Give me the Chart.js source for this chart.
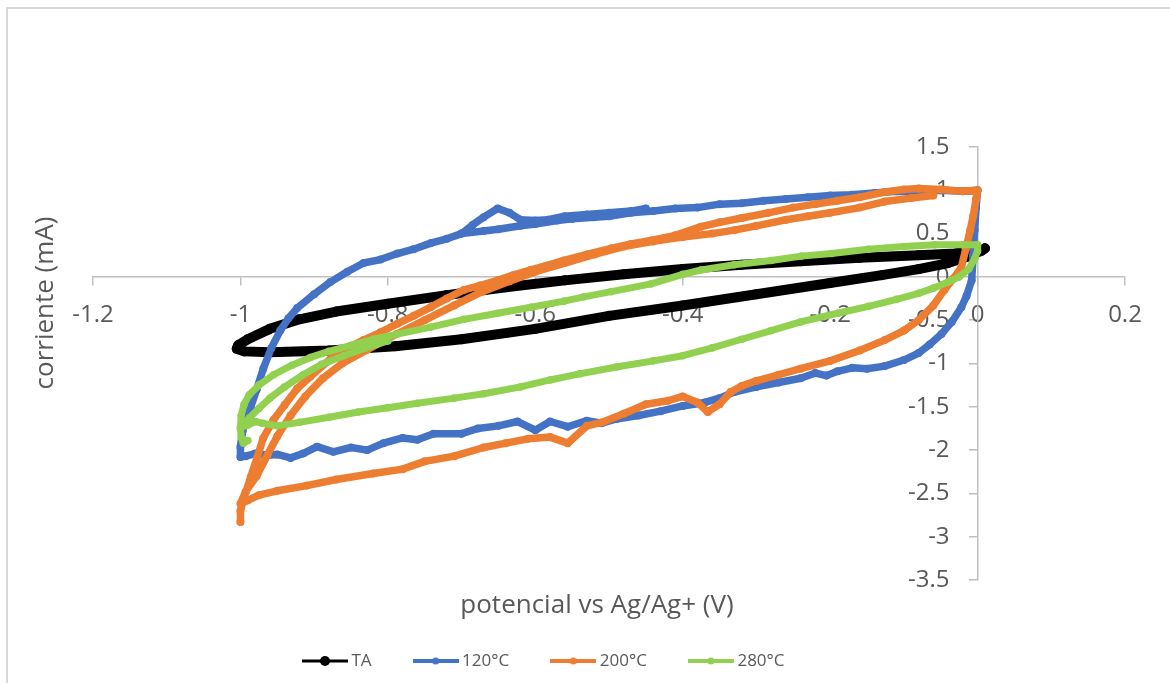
<!DOCTYPE html>
<html>
<head>
<meta charset="utf-8">
<script src="https://cdn.jsdelivr.net/npm/chart.js@4.4.1/dist/chart.umd.min.js"></script>
<style>
  html, body { margin: 0; padding: 0; background: #fff; overflow: hidden; }
  #wrap { position: relative; width: 1170px; height: 683px; }
  #frame { position: absolute; left: 6px; top: 7px; width: 1220px; height: 740px;
           border: 2px solid #d9d9d9; box-sizing: border-box; }
  #cv { position: absolute; left: 0; top: 0; }
</style>
</head>
<body>
<div id="wrap">
  <div id="frame"></div>
  <canvas id="cv" width="1170" height="683"></canvas>
</div>
<script>
// Cyclic voltammograms: potential (V vs Ag/Ag+) against current (mA)
const seriesNames  = ['TA', '120°C', '200°C', '280°C'];
const seriesColors = ['#000000', '#4472C4', '#ED7D31', '#92D050'];

const xTicks = [-1.2, -1, -0.8, -0.6, -0.4, -0.2, 0, 0.2];
const yTicks = [-3.5, -3, -2.5, -2, -1.5, -1, -0.5, 0, 0.5, 1, 1.5];

const xTitle = 'potencial vs Ag/Ag+ (V)';
const yTitle = 'corriente (mA)';

// [potential, current]
const taPoints = [
  [0.000, 0.31], [-0.03, 0.27], [-0.08, 0.25], [-0.16, 0.22], [-0.24, 0.18], [-0.32, 0.14],
  [-0.40, 0.09], [-0.48, 0.03], [-0.56, -0.04], [-0.64, -0.12], [-0.72, -0.21], [-0.80, -0.31],
  [-0.87, -0.40], [-0.92, -0.49], [-0.96, -0.60], [-0.99, -0.72], [-1.003, -0.79], [-1.005, -0.83],
  [-0.995, -0.86], [-0.96, -0.87], [-0.88, -0.85], [-0.79, -0.80], [-0.70, -0.72], [-0.60, -0.60],
  [-0.50, -0.45], [-0.40, -0.33], [-0.30, -0.20], [-0.20, -0.07], [-0.13, 0.02], [-0.08, 0.09],
  [-0.04, 0.16], [-0.015, 0.23], [0.005, 0.30], [0.01, 0.33]
];

const t120Points = [
  [-0.70, 0.50], [-0.67, 0.53], [-0.65, 0.55], [-0.62, 0.59], [-0.60, 0.61], [-0.57, 0.65],
  [-0.55, 0.67], [-0.52, 0.69], [-0.50, 0.70], [-0.47, 0.74], [-0.44, 0.76], [-0.41, 0.79],
  [-0.38, 0.80], [-0.35, 0.84], [-0.32, 0.85], [-0.29, 0.88], [-0.26, 0.90], [-0.23, 0.92],
  [-0.20, 0.94], [-0.17, 0.95], [-0.14, 0.97], [-0.11, 0.99], [-0.08, 0.98], [-0.05, 1.00],
  [-0.02, 0.99], [0.00, 1.00],
  [-0.002, 0.80], [-0.004, 0.54], [-0.006, 0.25], [-0.008, -0.04], [-0.015, -0.22], [-0.022, -0.35],
  [-0.035, -0.52], [-0.049, -0.66], [-0.065, -0.78], [-0.08, -0.88], [-0.10, -0.96],
  [-0.126, -1.03], [-0.15, -1.06], [-0.17, -1.05], [-0.19, -1.09], [-0.205, -1.14], [-0.22, -1.11],
  [-0.24, -1.17], [-0.27, -1.22], [-0.30, -1.27], [-0.33, -1.33], [-0.35, -1.40], [-0.37, -1.45],
  [-0.40, -1.49], [-0.43, -1.55], [-0.46, -1.60], [-0.49, -1.64], [-0.51, -1.69], [-0.53, -1.66],
  [-0.556, -1.73], [-0.58, -1.67], [-0.60, -1.77], [-0.624, -1.67], [-0.65, -1.72], [-0.678, -1.75],
  [-0.70, -1.81], [-0.738, -1.81], [-0.76, -1.88], [-0.78, -1.86], [-0.806, -1.92], [-0.828, -2.00],
  [-0.85, -1.97], [-0.874, -2.02], [-0.896, -1.96], [-0.915, -2.04], [-0.932, -2.09], [-0.95, -2.05],
  [-0.963, -2.06], [-0.98, -2.04], [-0.993, -2.07], [-1.0, -2.08],
  [-1.0, -1.96], [-0.997, -1.78], [-0.993, -1.64], [-0.986, -1.50], [-0.978, -1.30], [-0.969, -1.06],
  [-0.958, -0.82], [-0.946, -0.62], [-0.935, -0.48], [-0.923, -0.36], [-0.90, -0.20], [-0.878, -0.06],
  [-0.855, 0.06], [-0.833, 0.16], [-0.81, 0.20], [-0.787, 0.27], [-0.765, 0.32], [-0.742, 0.39],
  [-0.72, 0.44], [-0.70, 0.50],
  [-0.685, 0.60], [-0.67, 0.69], [-0.651, 0.79], [-0.635, 0.74], [-0.62, 0.66], [-0.60, 0.65],
  [-0.583, 0.66], [-0.56, 0.70], [-0.53, 0.72], [-0.50, 0.74], [-0.47, 0.76], [-0.45, 0.79]
];

const t200Points = [
  [-1.0, -2.83], [-1.0, -2.70], [-0.995, -2.55], [-0.986, -2.31], [-0.977, -2.08], [-0.969, -1.86],
  [-0.955, -1.65], [-0.94, -1.48], [-0.923, -1.29], [-0.905, -1.15], [-0.878, -0.95], [-0.855, -0.82],
  [-0.833, -0.73], [-0.81, -0.64], [-0.787, -0.54], [-0.765, -0.45], [-0.742, -0.35], [-0.72, -0.25],
  [-0.697, -0.15], [-0.675, -0.10], [-0.651, -0.04], [-0.63, 0.02], [-0.606, 0.08], [-0.585, 0.13],
  [-0.561, 0.19], [-0.53, 0.26], [-0.497, 0.33], [-0.47, 0.38], [-0.443, 0.42], [-0.41, 0.48],
  [-0.375, 0.58], [-0.35, 0.63], [-0.32, 0.68], [-0.284, 0.74], [-0.25, 0.80], [-0.22, 0.84],
  [-0.19, 0.88], [-0.16, 0.92], [-0.126, 0.98], [-0.10, 1.01], [-0.08, 1.02], [-0.05, 1.01],
  [-0.02, 0.99], [0.0, 1.00],
  [-0.002, 0.90], [-0.006, 0.70], [-0.01, 0.54], [-0.016, 0.32], [-0.022, 0.11], [-0.033, -0.02],
  [-0.045, -0.15], [-0.06, -0.33], [-0.08, -0.50], [-0.10, -0.62], [-0.126, -0.73], [-0.16, -0.85],
  [-0.20, -0.97],
  [-0.24, -1.06], [-0.27, -1.13], [-0.30, -1.20], [-0.32, -1.26], [-0.335, -1.33], [-0.35, -1.47],
  [-0.366, -1.56], [-0.38, -1.45], [-0.40, -1.38], [-0.42, -1.43], [-0.45, -1.47], [-0.48, -1.58],
  [-0.51, -1.68], [-0.53, -1.72], [-0.556, -1.92], [-0.58, -1.85], [-0.61, -1.87], [-0.64, -1.92],
  [-0.67, -1.97], [-0.71, -2.07], [-0.75, -2.13], [-0.78, -2.22], [-0.82, -2.27], [-0.87, -2.34],
  [-0.91, -2.41], [-0.95, -2.47], [-0.975, -2.52], [-0.99, -2.58], [-1.0, -2.62],
  [-0.993, -2.48], [-0.978, -2.30], [-0.963, -2.05], [-0.950, -1.84], [-0.932, -1.60], [-0.912, -1.38],
  [-0.888, -1.17], [-0.862, -1.00], [-0.828, -0.84], [-0.788, -0.66], [-0.75, -0.50], [-0.71, -0.33],
  [-0.672, -0.17], [-0.635, -0.05], [-0.60, 0.06], [-0.56, 0.16], [-0.52, 0.26], [-0.48, 0.35],
  [-0.44, 0.41], [-0.40, 0.46], [-0.36, 0.50], [-0.33, 0.54], [-0.30, 0.59], [-0.26, 0.66],
  [-0.23, 0.70], [-0.20, 0.74], [-0.16, 0.80], [-0.126, 0.87], [-0.09, 0.91], [-0.06, 0.94]
];

const t280Points = [
  [-0.80, -0.74], [-0.83, -0.82], [-0.86, -0.91], [-0.89, -1.01], [-0.915, -1.13], [-0.94, -1.27],
  [-0.96, -1.40], [-0.975, -1.52], [-0.988, -1.63], [-1.0, -1.75],
  [-0.999, -1.60], [-0.995, -1.47], [-0.988, -1.36], [-0.975, -1.25], [-0.955, -1.13], [-0.93, -1.02],
  [-0.905, -0.93], [-0.88, -0.86], [-0.85, -0.79], [-0.82, -0.72], [-0.787, -0.66], [-0.742, -0.58],
  [-0.697, -0.49], [-0.651, -0.42], [-0.606, -0.35], [-0.561, -0.28], [-0.534, -0.23], [-0.497, -0.17],
  [-0.443, -0.08], [-0.40, 0.03], [-0.375, 0.08], [-0.33, 0.14], [-0.28, 0.19], [-0.239, 0.24],
  [-0.198, 0.27], [-0.148, 0.32], [-0.10, 0.35], [-0.058, 0.37], [-0.02, 0.37], [0.0, 0.37],
  [0.0, 0.30], [-0.004, 0.21], [-0.012, 0.09], [-0.025, 0.0], [-0.04, -0.06], [-0.06, -0.13],
  [-0.08, -0.19], [-0.11, -0.26], [-0.148, -0.34], [-0.19, -0.42], [-0.24, -0.52], [-0.28, -0.62],
  [-0.32, -0.72], [-0.36, -0.82], [-0.40, -0.91], [-0.44, -0.97], [-0.49, -1.04], [-0.54, -1.12],
  [-0.58, -1.19], [-0.62, -1.27], [-0.67, -1.35], [-0.71, -1.40], [-0.76, -1.46], [-0.80, -1.51],
  [-0.84, -1.56], [-0.88, -1.62], [-0.92, -1.68], [-0.95, -1.72], [-0.97, -1.69], [-0.98, -1.67],
  [-0.99, -1.71], [-1.0, -1.74], [-0.999, -1.85], [-0.996, -1.92], [-0.99, -1.89]
];

const seriesPoints = [taPoints, t120Points, t200Points, t280Points];
const strokeWidths = [10, 7.5, 7.5, 7];
const markerRadii  = [5, 4, 4, 3.8];

const FONT = '"Open Sans", "Noto Sans", sans-serif';
const TEXT = '#595959';
const AXIS = '#bfbfbf';

function fmt(v) { return String(Number(v.toFixed(1))); }

// Legend glyph: short line with a marker in the middle
function legendIcon(color, lw, r) {
  const c = document.createElement('canvas');
  c.width = 46; c.height = 14;
  const g = c.getContext('2d');
  g.strokeStyle = color; g.lineWidth = lw;
  g.beginPath(); g.moveTo(0, 7); g.lineTo(46, 7); g.stroke();
  g.fillStyle = color;
  g.beginPath(); g.arc(23, 7, r, 0, Math.PI * 2); g.fill();
  return c;
}
const legendIcons = seriesColors.map((c, i) => legendIcon(c, i === 0 ? 3 : 4, i === 0 ? 5 : 3.5));

const datasets = seriesNames.map((name, i) => ({
  label: name,
  data: seriesPoints[i].map(([x, y]) => ({ x, y })),
  borderColor: seriesColors[i],
  backgroundColor: seriesColors[i],
  borderWidth: strokeWidths[i],
  borderJoinStyle: 'round',
  borderCapStyle: 'round',
  pointRadius: markerRadii[i],
  pointBorderWidth: 0,
  pointBackgroundColor: seriesColors[i],
  pointHoverRadius: markerRadii[i],
  fill: false,
  tension: 0,
  order: seriesNames.length - i
}));

// Axis titles drawn beside the plot
const axisTitles = {
  id: 'axisTitles',
  afterDraw(chart) {
    const { ctx } = chart;
    ctx.save();
    ctx.fillStyle = TEXT;
    ctx.font = '26px ' + FONT;
    ctx.textAlign = 'center';
    ctx.textBaseline = 'middle';
    ctx.fillText(xTitle, 597, 606);
    ctx.translate(46, 303);
    ctx.rotate(-Math.PI / 2);
    ctx.fillText(yTitle, 0, 0);
    ctx.restore();
  }
};

// Value labels of the crossing y axis sit left of its tick marks
const yLabelGap = 28;
const yLabelOffset = {
  id: 'yLabelOffset',
  beforeDraw(chart) {
    const items = chart.scales.y.getLabelItems();
    if (items && !items.shifted) {
      items.forEach(it => { it.options.translation[0] -= yLabelGap; });
      items.shifted = true;
    }
  }
};

// Legend row sits lower than the default spot
const legendPlacement = {
  id: 'legendPlacement',
  afterLayout(chart) {
    const lg = chart.legend;
    if (!lg || !lg.lineWidths) return;
    const pad = lg.options.labels.padding;
    const h = lg.height;
    lg.top = 661 - pad - 8.5;
    lg.bottom = lg.top + h;
    const start = (lg.left + pad + lg.right - lg.lineWidths[0]) / 2;
    const shift = 307 - start;
    lg.left += shift;
    lg.right += shift;
  }
};

new Chart(document.getElementById('cv'), {
  type: 'line',
  data: { datasets },
  plugins: [axisTitles, yLabelOffset, legendPlacement],
  options: {
    responsive: false,
    animation: false,
    events: [],
    layout: { padding: { left: 93, right: 45, top: 147, bottom: 30 } },
    scales: {
      x: {
        type: 'linear',
        min: -1.2, max: 0.2,
        position: { y: 0 },
        afterBuildTicks: s => { s.ticks = xTicks.map(v => ({ value: v })); },
        ticks: { callback: fmt, color: TEXT, font: { family: FONT, size: 24 }, padding: 16,
                 maxRotation: 0, autoSkip: false },
        grid: { drawOnChartArea: false, drawTicks: true, tickLength: 8, color: AXIS, lineWidth: 1.5 },
        border: { display: true, color: AXIS, width: 1.5 }
      },
      y: {
        type: 'linear',
        min: -3.5, max: 1.5,
        position: { x: 0 },
        afterBuildTicks: s => { s.ticks = yTicks.map(v => ({ value: v })); },
        ticks: { callback: fmt, color: TEXT, font: { family: FONT, size: 24 }, autoSkip: false },
        grid: { drawOnChartArea: false, drawTicks: true, tickLength: 8, color: AXIS, lineWidth: 1.5 },
        border: { display: true, color: AXIS, width: 1.5 }
      }
    },
    plugins: {
      tooltip: { enabled: false },
      legend: {
        position: 'bottom',
        labels: {
          usePointStyle: true,
          pointStyleWidth: 36,
          padding: 46,
          color: TEXT,
          font: { family: FONT, size: 17 },
          sort: (a, b) => a.datasetIndex - b.datasetIndex,
          generateLabels(chart) {
            const items = Chart.defaults.plugins.legend.labels.generateLabels(chart);
            items.forEach(it => { it.pointStyle = legendIcons[it.datasetIndex]; });
            return items;
          }
        }
      }
    }
  }
});
</script>
</body>
</html>
